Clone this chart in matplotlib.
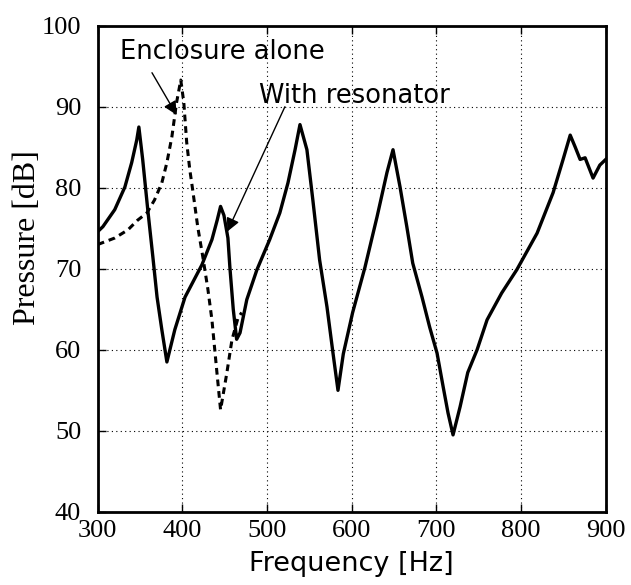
import numpy as np
import matplotlib.pyplot as plt

# ------------------------------------------------------------
# Data
# ------------------------------------------------------------
freq_res = [300, 306, 320, 332, 340, 346, 348.5, 353, 359, 365, 370, 375.6,
            381.6, 391, 403, 423, 434.8, 441, 445, 449, 453.7, 456, 460, 464,
            468, 476, 488, 503, 515, 524.6, 533, 538.8, 547, 554, 562, 570.7,
            577.8, 583.7, 590, 601, 615.6, 629.8, 641.6, 648.7, 657, 665, 672,
            683, 692, 700.7, 708, 713.7, 719.6, 728, 737, 748, 759.8, 777, 795,
            818.9, 837.8, 849.6, 858, 864, 869.7, 875.6, 885, 893, 900]
p_res = [74.6, 75.2, 77.3, 80.1, 83.1, 85.9, 87.5, 83.5, 77.3, 71.5, 66.5, 62.5,
         58.5, 62.5, 66.5, 70.5, 73.6, 76.0, 77.7, 76.6, 73.8, 70.2, 65.0, 61.3,
         62.1, 66.2, 69.9, 73.6, 76.9, 80.6, 84.7, 87.8, 84.7, 78.5, 71.1, 65.3,
         59.6, 55.0, 59.5, 64.6, 70.2, 76.4, 81.9, 84.7, 80.1, 75.2, 70.7,
         66.5, 62.8, 59.6, 55.4, 52.2, 49.5, 53.0, 57.2, 60.0, 63.7, 67.0, 69.9,
         74.4, 79.4, 83.5, 86.5, 85.0, 83.5, 83.7, 81.2, 82.8, 83.5]

freq_alone = [300, 320, 335.5, 347, 358, 367, 375.6, 381.6, 387.5, 393, 398,
              401.6, 405, 408.7, 412, 418, 424, 430, 434.8, 440.7, 445, 452.5,
              458.4, 465.5, 470]
p_alone = [73.0, 73.8, 74.8, 76.0, 76.9, 78.5, 80.6, 83.1, 86.3, 90.5, 93.3,
           90.5, 85.6, 82.2, 79.8, 75.2, 71.5, 67.5, 63.7, 57.2, 52.6, 57.2,
           61.2, 63.9, 64.6]

x_ticks = [300, 400, 500, 600, 700, 800, 900]
y_ticks = [40, 50, 60, 70, 80, 90, 100]


def main():
    plt.rcParams['font.family'] = ['Liberation Serif', 'DejaVu Serif']
    sans = ['DejaVu Sans']

    fig = plt.figure(figsize=(6.31, 5.85), dpi=100)
    ax = fig.add_axes([0.155, 0.125, 0.805, 0.831])

    ax.plot(freq_alone, p_alone, color='black', lw=2.2, ls=(0, (2.2, 1.6)))
    ax.plot(freq_res, p_res, color='black', lw=2.4)

    ax.set_xlim(300, 900)
    ax.set_ylim(40, 100)
    ax.set_xticks(x_ticks)
    ax.set_yticks(y_ticks)
    ax.tick_params(axis='both', direction='in', length=6, width=1, labelsize=19,
                   top=True, right=False)
    ax.tick_params(axis='x', pad=6)
    ax.tick_params(axis='y', pad=12)
    ax.grid(True, color='black', ls=(0, (1, 3)), lw=0.8)
    for s in ax.spines.values():
        s.set_linewidth(2.0)

    ax.set_xlabel("Frequency [Hz]", fontsize=19.5, labelpad=6, family=sans)
    ax.set_ylabel("Pressure [dB]", fontsize=23)
    ax.yaxis.set_label_coords(-0.110, 0.565)

    # labels and arrows
    ax.text(326, 96.8, "Enclosure alone", fontsize=18.5, family=sans,
            ha='left', va='center')
    ax.text(490, 91.3, "With resonator", fontsize=18.5, family=sans,
            ha='left', va='center')
    arrow = dict(arrowstyle='-|>', color='black', lw=1,
                 mutation_scale=20, shrinkA=0, shrinkB=0)
    ax.annotate("", xy=(393, 89.0), xytext=(364, 94.2), arrowprops=arrow)
    ax.annotate("", xy=(453, 74.6), xytext=(521, 90.0), arrowprops=arrow)

    fig.savefig("out.png", dpi=100)


if __name__ == "__main__":
    main()
